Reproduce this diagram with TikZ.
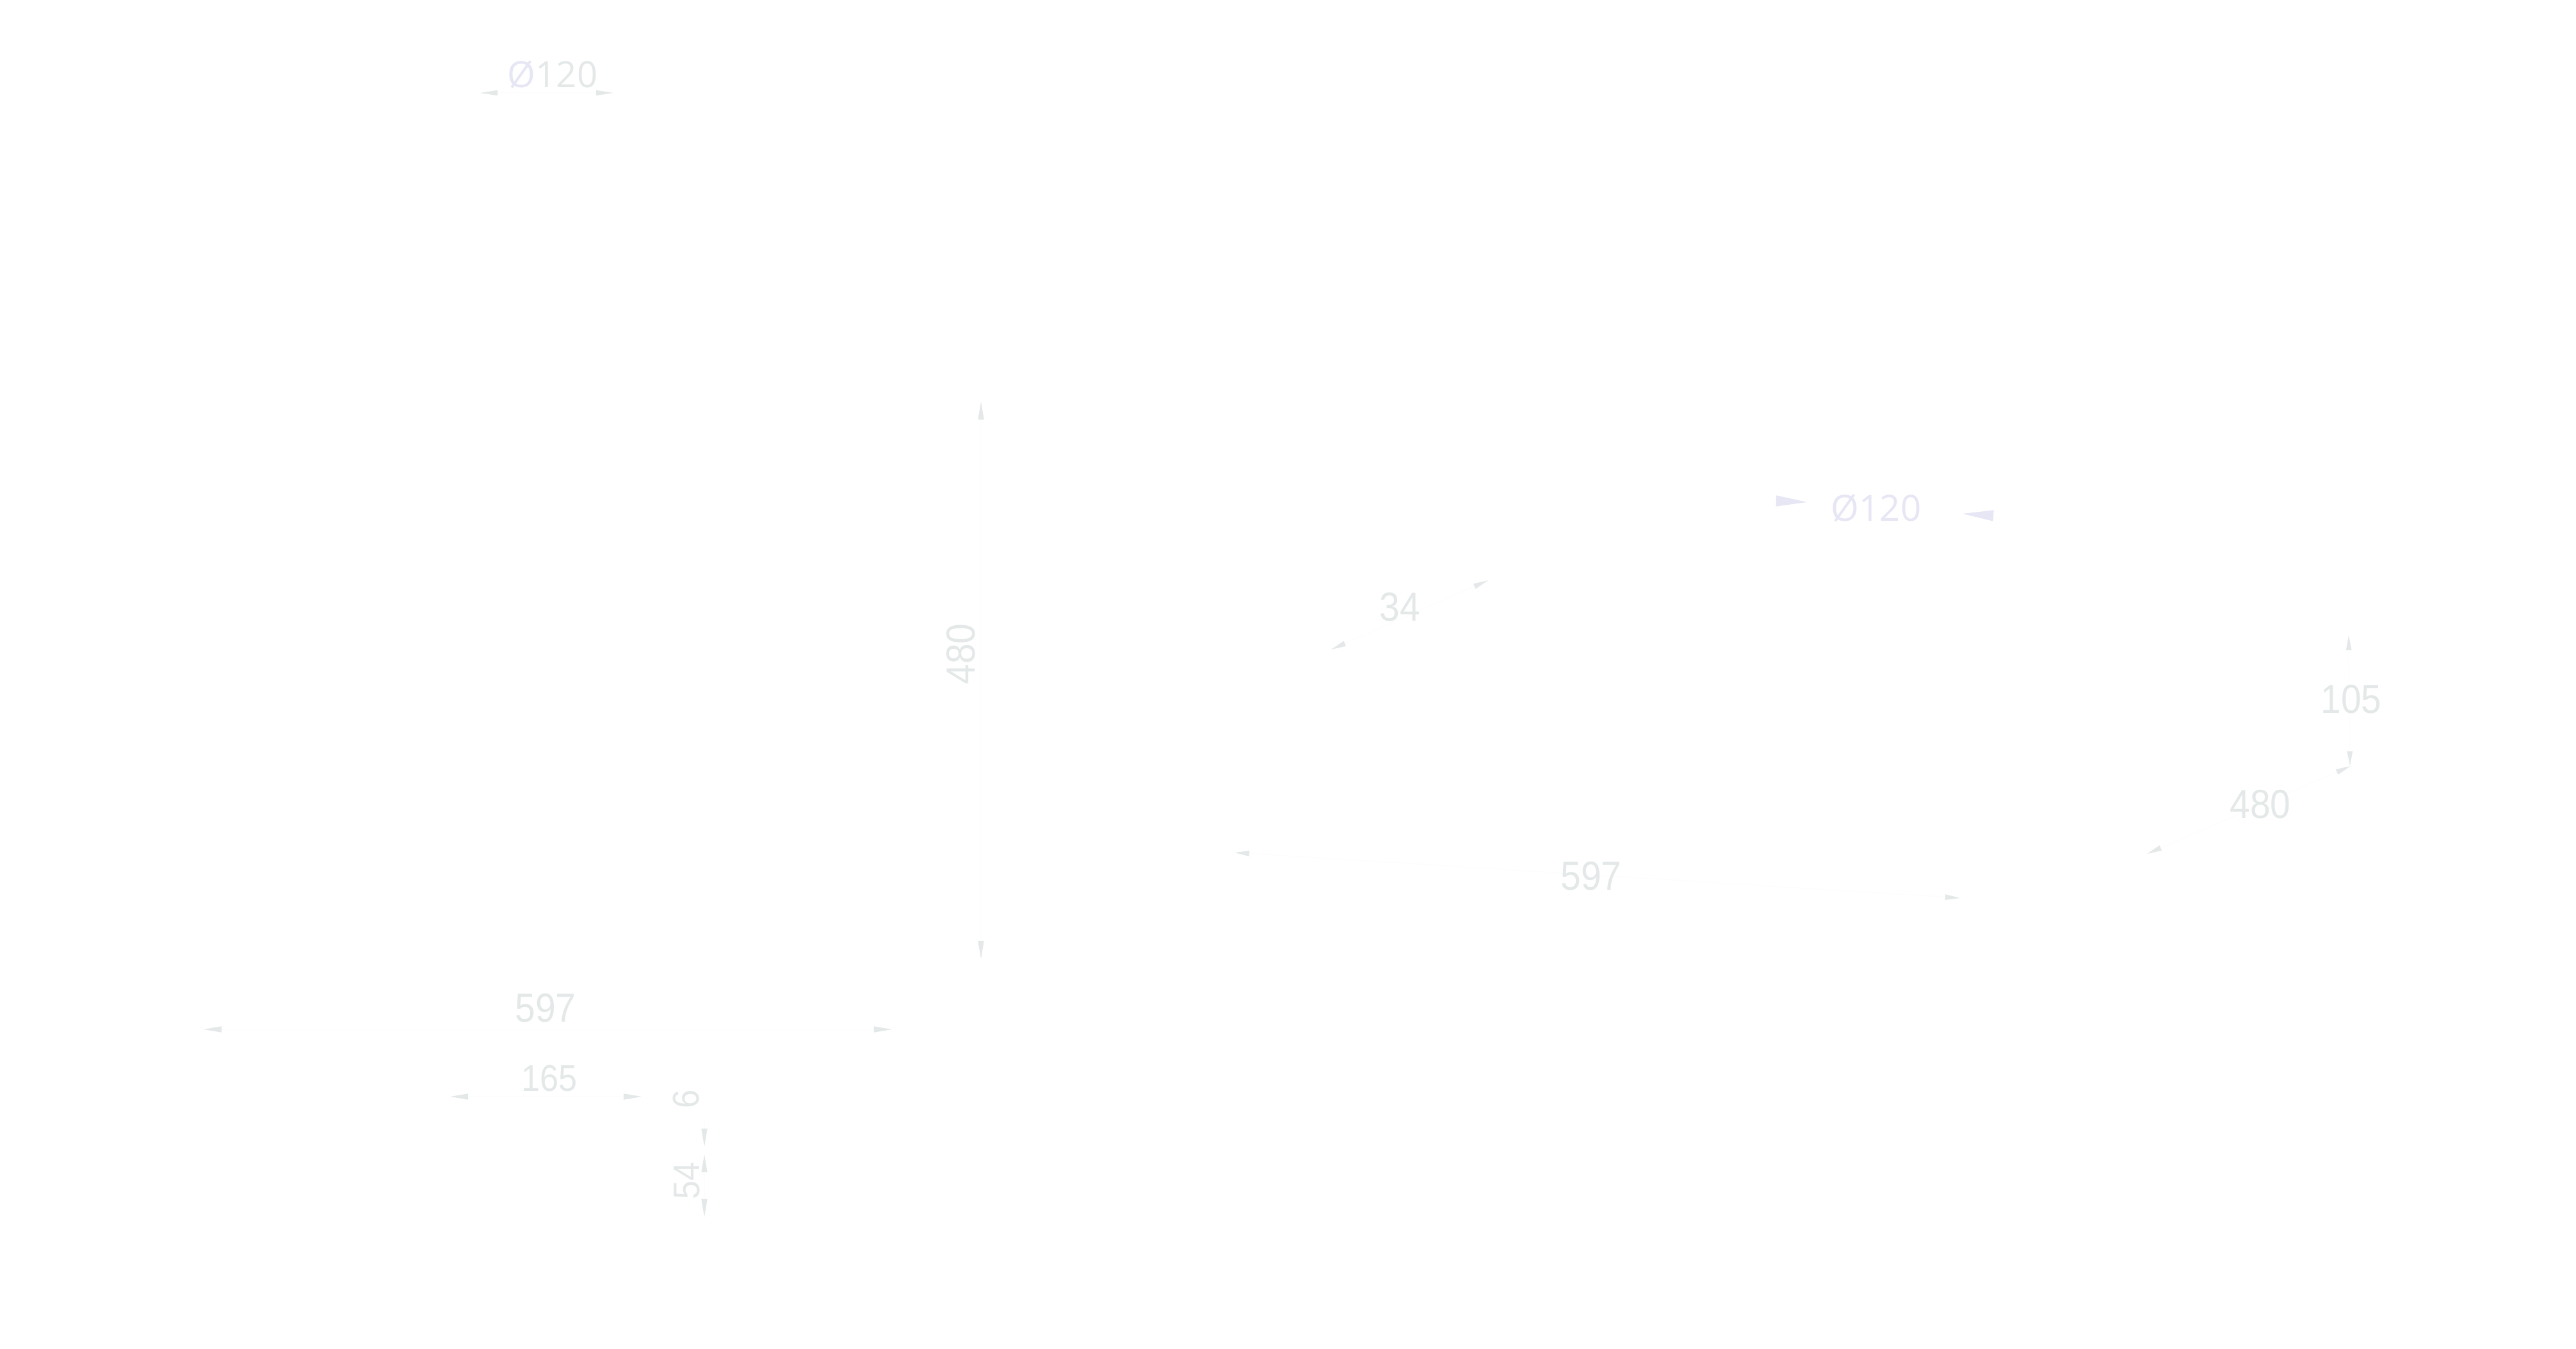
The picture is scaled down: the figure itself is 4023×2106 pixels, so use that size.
\documentclass[tikz,border=0pt]{standalone}
\usepackage{fontspec}
\setmainfont{Liberation Sans}
\newfontfamily\dimfont[FakeStretch=0.9]{Liberation Sans}
\newfontfamily\osfont{Open Sans}
\usetikzlibrary{arrows.meta}
\definecolor{dimgray}{HTML}{E4E8E8}
\definecolor{dimlav}{HTML}{E6E6F4}
\definecolor{dimline}{HTML}{FDFDFD}
\tikzset{
  dimtipA/.tip={Triangle[length=8pt,width=2.6pt,color=dimgray]},
  dimtipB/.tip={Triangle[length=6.6pt,width=2.4pt,color=dimgray]},
  dimtipC/.tip={Triangle[length=13.7pt,width=4.8pt,color=dimlav]},
  dimtipD/.tip={Triangle[length=7.7pt,width=2.3pt,color=dimgray]},
  dimA/.style={draw=dimline, line width=0.3pt, dimtipA-dimtipA},
  dimB/.style={draw=dimline, line width=0.3pt, dimtipB-dimtipB},
  dimD/.style={draw=dimline, line width=0.3pt, dimtipD-dimtipD},
  dimC/.style={draw=dimline, line width=0.3pt, -dimtipC},
  dimone/.style={draw=dimline, line width=0.3pt, -dimtipA},
  dimtext/.style={text=dimgray, inner sep=0pt, font=\dimfont\fontsize{18}{18}\selectfont},
  smalltext/.style={text=dimgray, inner sep=0pt, font=\dimfont\fontsize{16.5}{16.5}\selectfont},
  diatext/.style={inner sep=0pt, anchor=base, font=\osfont\fontsize{16}{16}\selectfont}
}
\begin{document}
\begin{tikzpicture}[x=0.01cm, y=-0.01cm]
  \fill[white] (0,0) rectangle (4023,2106);
  \useasboundingbox (0,0) rectangle (4023,2106);

  % top-left diameter
  \coordinate (d1a) at (750,145);
  \coordinate (d1b) at (958,145);
  \draw[dimD] (d1a) -- (d1b);
  \node[diatext] (t1) at (863,137) {{\color{dimlav}Ø}\textcolor{dimgray}{120}};

  % vertical 480
  \coordinate (v1a) at (1532,627);
  \coordinate (v1b) at (1532,1497);
  \draw[dimA] (v1a) -- (v1b);
  \node[dimtext, rotate=90] (t2) at (1501,1021) {480};

  % bottom-left 597
  \coordinate (h1a) at (318,1607);
  \coordinate (h1b) at (1393,1607);
  \draw[dimA] (h1a) -- (h1b);
  \node[dimtext] (t3) at (852,1574) {597};

  % 165
  \coordinate (h2a) at (703,1712);
  \coordinate (h2b) at (1002,1712);
  \draw[dimA] (h2a) -- (h2b);
  \node[smalltext] (t4) at (858,1684) {165};

  % 6 and 54
  \coordinate (s6a) at (1100,1745);
  \coordinate (s6b) at (1100,1790);
  \draw[dimone] (s6a) -- (s6b);
  \node[smalltext, rotate=90] (t5) at (1072,1716) {6};
  \coordinate (s54a) at (1100,1802);
  \coordinate (s54b) at (1100,1900);
  \draw[dimA] (s54a) -- (s54b);
  \node[smalltext, rotate=90] (t6) at (1073,1843) {54};

  % 34
  \coordinate (g1a) at (2079,1014);
  \coordinate (g1b) at (2324,906);
  \draw[dimB] (g1a) -- (g1b);
  \node[dimtext] (t7) at (2186,948) {34};

  % right diameter
  \coordinate (d2a) at (2774,782);
  \coordinate (d2b) at (2822,784);
  \coordinate (d2c) at (3113,805);
  \coordinate (d2d) at (3065,802);
  \draw[dimC] (d2a) -- (d2b);
  \draw[dimC] (d2c) -- (d2d);
  \node[diatext, text=dimlav] (t8) at (2930,813) {Ø120};

  % 105
  \coordinate (r1a) at (3668,992);
  \coordinate (r1b) at (3670,1196);
  \draw[dimB] (r1a) -- (r1b);
  \node[dimtext] (t9) at (3672,1092) {105};

  % 480 diagonal
  \coordinate (r2a) at (3353,1333);
  \coordinate (r2b) at (3671,1196);
  \draw[dimB] (r2a) -- (r2b);
  \node[dimtext] (t10) at (3530,1256) {480};

  % middle 597
  \coordinate (m1a) at (1928,1331);
  \coordinate (m1b) at (3061,1402);
  \draw[dimB] (m1a) -- (m1b);
  \node[dimtext] (t11) at (2485,1368) {597};
\end{tikzpicture}
\end{document}
